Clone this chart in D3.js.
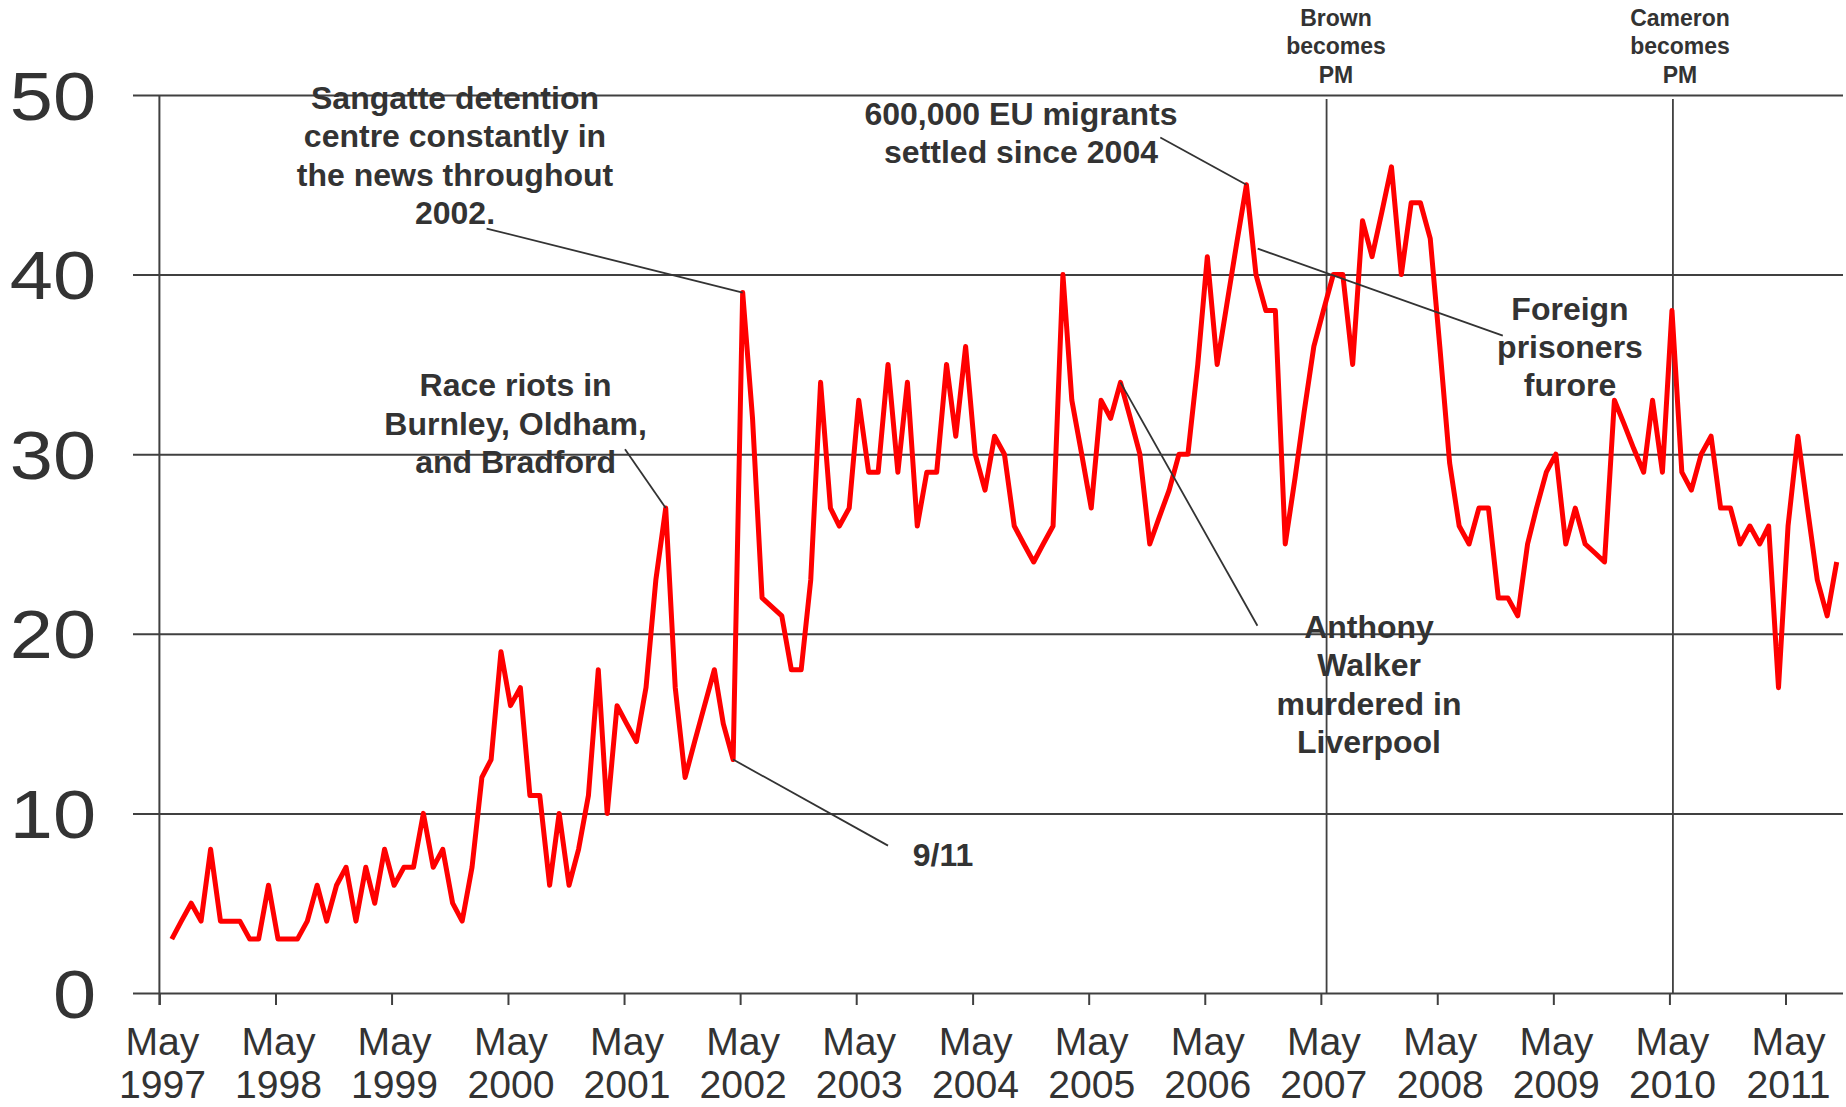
<!DOCTYPE html>
<html><head><meta charset="utf-8">
<script src="https://cdn.jsdelivr.net/npm/d3@7/dist/d3.min.js"></script>
<style>
html,body{margin:0;padding:0;background:#fff;overflow:hidden}
text{font-family:"Liberation Sans",Arial,sans-serif;fill:#333}
</style>
</head><body>
<svg id="chart" width="1846" height="1107"></svg>
<script>
// ---------- data ----------
const firstYear = 1997;
const firstMonth = 5; // June (0-based), monthly series
const values = [
  3,4,5,4,8,4,4,4,3,3,6,3,3,3,4,6,4,6,7,4,7,5,8,6,7,7,10,7,8,5,
  4,7,12,13,19,16,17,11,11,6,10,6,8,11,18,10,16,15,14,17,23,27,17,12,14,16,18,15,13,39,
  32,22,21.5,21,18,18,23,34,27,26,27,33,29,29,35,29,34,26,29,29,35,31,36,30,28,31,30,26,25,24,
  25,26,40,33,30,27,33,32,34,32,30,25,26.5,28,30,30,35,41,35,38.3,41.7,45,40,38,38,25,28.7,32.3,36,38,
  40,40,35,43,41,43.5,46,40,44,44,42,36,29.5,26,25,27,27,22,22,21,25,27,29,30,25,27,25,24.5,24,33,
  31.7,30.3,29,33,29,38,29,28,30,31,27,27,25,26,25,26,17,26,31,27,23,21,24
];
const tickYears = [1997,1998,1999,2000,2001,2002,2003,2004,2005,2006,2007,2008,2009,2010,2011];
const tickMonthName = "May";
const yTicks = [0,10,20,30,40,50];
const eventLabels = [["Brown","becomes","PM"],["Cameron","becomes","PM"]];
const eventDates = [new Date(2007,4,19), new Date(2010,4,12)];
const annotationTexts = [
  ["Sangatte detention","centre constantly in","the news throughout","2002."],
  ["Race riots in","Burnley, Oldham,","and Bradford"],
  ["9/11"],
  ["600,000 EU migrants","settled since 2004"],
  ["Foreign","prisoners","furore"],
  ["Anthony","Walker","murdered in","Liverpool"]
];
const annotationPointIndex = [59, 51, 58, 111, null, 98];

// ---------- layout ----------
const W = 1846, H = 1107;
const plot = {left:159.4, right:1843, top:95, bottom:993, gridStart:133};
const annLayout = [
  {cx:455,  y0:109,   lh:38.4, from:[486.6,228.6]},
  {cx:515.6,y0:396.4, lh:38.4, from:[625,449.3]},
  {cx:943,  y0:865.5, lh:38.4, from:[888,845.6]},
  {cx:1021, y0:125,   lh:37.5, from:[1160.3,137.5]},
  {cx:1570, y0:319.6, lh:38.4, from:[1502.8,335.7], to:[1257.7,248.6]},
  {cx:1369, y0:637.6, lh:38.6, from:[1257.4,625.7]}
];
const eventTextCx = [1336, 1680];

const data = values.map((v,i)=>({date:new Date(firstYear, firstMonth+i, 9), value:v}));
const tickDates = tickYears.map(y=>new Date(y,4,1));

const x = d3.scaleTime().domain([tickDates[0], tickDates[tickDates.length-1]]).range([plot.left, 1785.5]);
const y = d3.scaleLinear().domain([0,50]).range([plot.bottom, plot.top]);

const svg = d3.select("#chart");
svg.append("rect").attr("width",W).attr("height",H).attr("fill","#fff");

// horizontal gridlines (extend left of axis like outer ticks)
const grid = svg.append("g").attr("transform",`translate(${plot.gridStart},0)`)
  .call(d3.axisRight(y).tickValues(yTicks).tickSize(plot.right-plot.gridStart).tickFormat(""));
grid.select(".domain").remove();
grid.selectAll("line").attr("stroke","#404040").attr("stroke-width",2);

// y labels
const yl = svg.append("g").attr("transform","translate(96,0)")
  .call(d3.axisLeft(y).tickValues(yTicks).tickSize(0).tickPadding(0));
yl.select(".domain").remove();
yl.selectAll("text").attr("font-size",68).attr("dy","0.355em").attr("x",0)
  .attr("transform","scale(1.14,1)")
  .attr("font-family",'"Liberation Sans",Arial,sans-serif').attr("fill","#333");

// x ticks
const xa = svg.append("g").attr("transform",`translate(0,${plot.bottom})`)
  .call(d3.axisBottom(x).tickValues(tickDates).tickSize(12).tickFormat(""));
xa.select(".domain").remove();
xa.selectAll("line").attr("stroke","#404040").attr("stroke-width",2);

// x labels
const xl = svg.append("g");
tickDates.forEach((d,i)=>{
  const g = xl.append("g").attr("transform",`translate(${x(d)+3},0) scale(1.03,1)`);
  const t = g.append("text").attr("text-anchor","middle").attr("font-size",38);
  t.append("tspan").attr("x",0).attr("y",1055).text(tickMonthName);
  t.append("tspan").attr("x",0).attr("y",1098).text(tickYears[i]);
});

// y axis line
svg.append("line").attr("x1",plot.left).attr("x2",plot.left)
  .attr("y1",plot.top).attr("y2",plot.bottom+12).attr("stroke","#404040").attr("stroke-width",2);

// event vertical lines
eventDates.forEach((d,i)=>{
  svg.append("line").attr("x1",x(d)).attr("x2",x(d)).attr("y1",99).attr("y2",plot.bottom)
    .attr("stroke","#404040").attr("stroke-width",1.8);
  eventLabels[i].forEach((s,j)=>{
    svg.append("text").attr("text-anchor","middle").attr("font-size",23).attr("font-weight","bold")
      .attr("x",eventTextCx[i]).attr("y",26+28.4*j).text(s);
  });
});

// series line
svg.append("path").datum(data)
  .attr("d", d3.line().x(d=>x(d.date)).y(d=>y(d.value)))
  .attr("fill","none").attr("stroke","#ff0000").attr("stroke-width",5)
  .attr("stroke-linejoin","round");

// annotations
annotationTexts.forEach((lines,i)=>{
  const L = annLayout[i];
  let to;
  if (annotationPointIndex[i] !== null) {
    const d = data[annotationPointIndex[i]];
    to = [x(d.date), y(d.value)];
  } else to = L.to;
  svg.append("line").attr("x1",L.from[0]).attr("y1",L.from[1]).attr("x2",to[0]).attr("y2",to[1])
    .attr("stroke","#333").attr("stroke-width",1.8);
  lines.forEach((s,j)=>{
    svg.append("text").attr("text-anchor","middle").attr("font-size",32).attr("font-weight","bold")
      .attr("x",L.cx).attr("y",L.y0+L.lh*j).text(s);
  });
});
</script>
</body></html>
